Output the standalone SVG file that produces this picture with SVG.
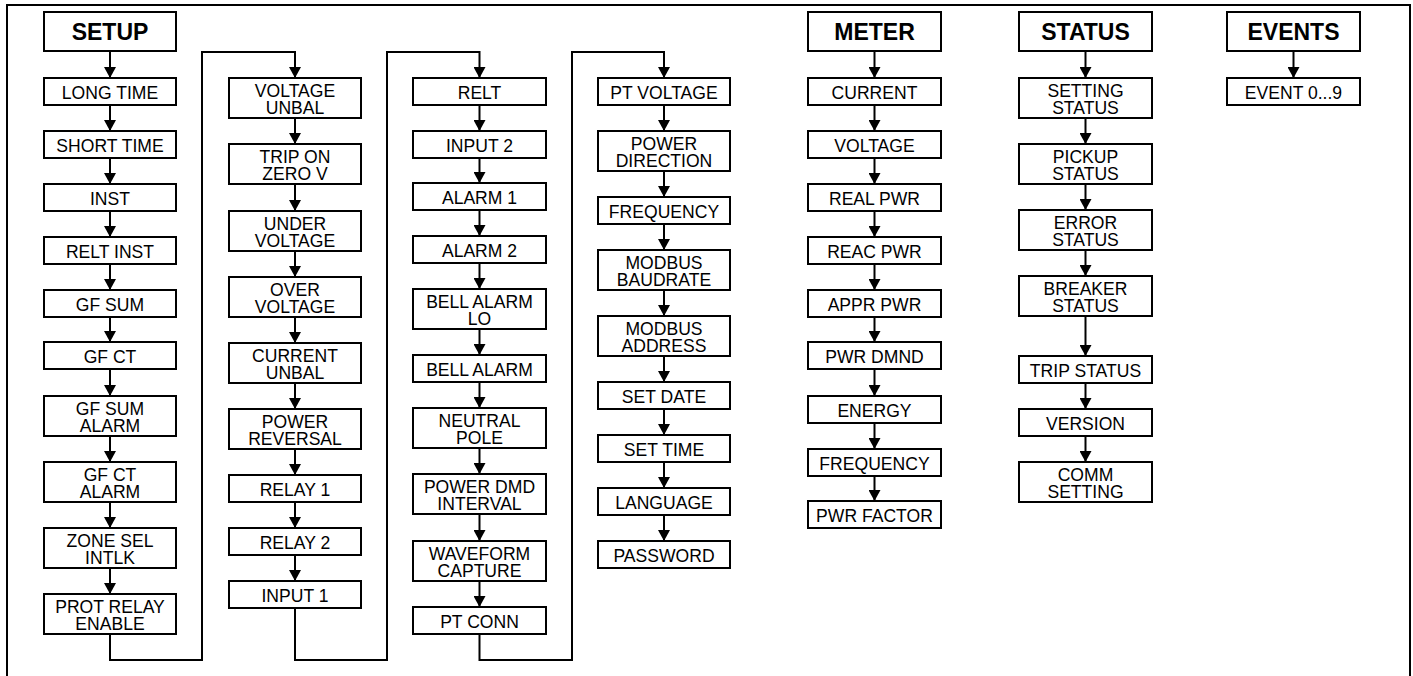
<svg xmlns="http://www.w3.org/2000/svg" width="1413" height="676" viewBox="0 0 1413 676">
<style>
.box{fill:#fff;stroke:#000;stroke-width:2}
.t{font-family:"Liberation Sans",Arial,sans-serif;font-size:18.5px;fill:#000;text-anchor:middle;transform-box:fill-box;transform-origin:center;transform:scaleX(0.95)}
.h{font-family:"Liberation Sans",Arial,sans-serif;font-size:23px;font-weight:bold;fill:#000;text-anchor:middle}
.c{fill:none;stroke:#000;stroke-width:2}
.frame{fill:none;stroke:#000;stroke-width:2}
</style>
<defs>
<marker id="ah" markerUnits="userSpaceOnUse" markerWidth="11" markerHeight="12" viewBox="0 0 11 12" refX="11" refY="6" orient="auto">
<path d="M0,0 L11,6 L0,12 z" fill="#000"/>
</marker>
</defs>
<rect class="frame" x="7" y="5" width="1403" height="680"/>

<g id="connectors">
<path class="c" marker-end="url(#ah)" d="M110,51 V78"/>
<path class="c" marker-end="url(#ah)" d="M110,105 V131"/>
<path class="c" marker-end="url(#ah)" d="M110,158 V184"/>
<path class="c" marker-end="url(#ah)" d="M110,211 V237"/>
<path class="c" marker-end="url(#ah)" d="M110,264 V290"/>
<path class="c" marker-end="url(#ah)" d="M110,317 V342"/>
<path class="c" marker-end="url(#ah)" d="M110,369 V396"/>
<path class="c" marker-end="url(#ah)" d="M110,436 V462"/>
<path class="c" marker-end="url(#ah)" d="M110,502 V528"/>
<path class="c" marker-end="url(#ah)" d="M110,568 V594"/>
<path class="c" marker-end="url(#ah)" d="M110,634 V660 H202 V52 H295 V78"/>
<path class="c" marker-end="url(#ah)" d="M295,118 V144"/>
<path class="c" marker-end="url(#ah)" d="M295,184 V211"/>
<path class="c" marker-end="url(#ah)" d="M295,251 V277"/>
<path class="c" marker-end="url(#ah)" d="M295,317 V343"/>
<path class="c" marker-end="url(#ah)" d="M295,383 V409"/>
<path class="c" marker-end="url(#ah)" d="M295,449 V475"/>
<path class="c" marker-end="url(#ah)" d="M295,502 V528"/>
<path class="c" marker-end="url(#ah)" d="M295,555 V581"/>
<path class="c" marker-end="url(#ah)" d="M295,608 V660 H387 V52 H479.5 V78"/>
<path class="c" marker-end="url(#ah)" d="M479.5,105 V131"/>
<path class="c" marker-end="url(#ah)" d="M479.5,158 V183"/>
<path class="c" marker-end="url(#ah)" d="M479.5,210 V236"/>
<path class="c" marker-end="url(#ah)" d="M479.5,263 V289"/>
<path class="c" marker-end="url(#ah)" d="M479.5,329 V355"/>
<path class="c" marker-end="url(#ah)" d="M479.5,382 V408"/>
<path class="c" marker-end="url(#ah)" d="M479.5,448 V474"/>
<path class="c" marker-end="url(#ah)" d="M479.5,514 V541"/>
<path class="c" marker-end="url(#ah)" d="M479.5,581 V607"/>
<path class="c" marker-end="url(#ah)" d="M479.5,634 V660 H572 V52 H664 V78"/>
<path class="c" marker-end="url(#ah)" d="M664,105 V131"/>
<path class="c" marker-end="url(#ah)" d="M664,171 V197"/>
<path class="c" marker-end="url(#ah)" d="M664,224 V250"/>
<path class="c" marker-end="url(#ah)" d="M664,290 V316"/>
<path class="c" marker-end="url(#ah)" d="M664,356 V382"/>
<path class="c" marker-end="url(#ah)" d="M664,409 V435"/>
<path class="c" marker-end="url(#ah)" d="M664,462 V488"/>
<path class="c" marker-end="url(#ah)" d="M664,515 V541"/>
<path class="c" marker-end="url(#ah)" d="M874.5,51 V78"/>
<path class="c" marker-end="url(#ah)" d="M874.5,105 V131"/>
<path class="c" marker-end="url(#ah)" d="M874.5,158 V184"/>
<path class="c" marker-end="url(#ah)" d="M874.5,211 V237"/>
<path class="c" marker-end="url(#ah)" d="M874.5,264 V290"/>
<path class="c" marker-end="url(#ah)" d="M874.5,317 V342"/>
<path class="c" marker-end="url(#ah)" d="M874.5,369 V396"/>
<path class="c" marker-end="url(#ah)" d="M874.5,423 V449"/>
<path class="c" marker-end="url(#ah)" d="M874.5,476 V501"/>
<path class="c" marker-end="url(#ah)" d="M1085.5,51 V78"/>
<path class="c" marker-end="url(#ah)" d="M1085.5,118 V144"/>
<path class="c" marker-end="url(#ah)" d="M1085.5,184 V210"/>
<path class="c" marker-end="url(#ah)" d="M1085.5,250 V276"/>
<path class="c" marker-end="url(#ah)" d="M1085.5,316 V356"/>
<path class="c" marker-end="url(#ah)" d="M1085.5,383 V409"/>
<path class="c" marker-end="url(#ah)" d="M1085.5,436 V462"/>
<path class="c" marker-end="url(#ah)" d="M1293.5,51 V78"/>
</g>

<g id="setup"><rect class="box" x="44" y="12" width="132" height="39"/><text class="h" x="110" y="39.5">SETUP</text></g>
<g id="long-time"><rect class="box" x="44" y="78" width="132" height="27"/><text class="t" x="110" y="99">LONG TIME</text></g>
<g id="short-time"><rect class="box" x="44" y="131" width="132" height="27"/><text class="t" x="110" y="152">SHORT TIME</text></g>
<g id="inst"><rect class="box" x="44" y="184" width="132" height="27"/><text class="t" x="110" y="205">INST</text></g>
<g id="relt-inst"><rect class="box" x="44" y="237" width="132" height="27"/><text class="t" x="110" y="258">RELT INST</text></g>
<g id="gf-sum"><rect class="box" x="44" y="290" width="132" height="27"/><text class="t" x="110" y="311">GF SUM</text></g>
<g id="gf-ct"><rect class="box" x="44" y="342" width="132" height="27"/><text class="t" x="110" y="363">GF CT</text></g>
<g id="gf-sum-alarm"><rect class="box" x="44" y="396" width="132" height="40"/><text class="t" x="110" y="414.8">GF SUM</text><text class="t" x="110" y="432.4">ALARM</text></g>
<g id="gf-ct-alarm"><rect class="box" x="44" y="462" width="132" height="40"/><text class="t" x="110" y="480.8">GF CT</text><text class="t" x="110" y="498.4">ALARM</text></g>
<g id="zone-sel"><rect class="box" x="44" y="528" width="132" height="40"/><text class="t" x="110" y="546.8">ZONE SEL</text><text class="t" x="110" y="564.4">INTLK</text></g>
<g id="prot-relay"><rect class="box" x="44" y="594" width="132" height="40"/><text class="t" x="110" y="612.8">PROT RELAY</text><text class="t" x="110" y="630.4">ENABLE</text></g>

<g id="voltage-unbal"><rect class="box" x="229" y="78" width="132" height="40"/><text class="t" x="295" y="96.8">VOLTAGE</text><text class="t" x="295" y="114.4">UNBAL</text></g>
<g id="trip-zero-v"><rect class="box" x="229" y="144" width="132" height="40"/><text class="t" x="295" y="162.8">TRIP ON</text><text class="t" x="295" y="180.4">ZERO V</text></g>
<g id="under-voltage"><rect class="box" x="229" y="211" width="132" height="40"/><text class="t" x="295" y="229.8">UNDER</text><text class="t" x="295" y="247.4">VOLTAGE</text></g>
<g id="over-voltage"><rect class="box" x="229" y="277" width="132" height="40"/><text class="t" x="295" y="295.8">OVER</text><text class="t" x="295" y="313.4">VOLTAGE</text></g>
<g id="current-unbal"><rect class="box" x="229" y="343" width="132" height="40"/><text class="t" x="295" y="361.8">CURRENT</text><text class="t" x="295" y="379.4">UNBAL</text></g>
<g id="power-reversal"><rect class="box" x="229" y="409" width="132" height="40"/><text class="t" x="295" y="427.8">POWER</text><text class="t" x="295" y="445.4">REVERSAL</text></g>
<g id="relay-1"><rect class="box" x="229" y="475" width="132" height="27"/><text class="t" x="295" y="496">RELAY 1</text></g>
<g id="relay-2"><rect class="box" x="229" y="528" width="132" height="27"/><text class="t" x="295" y="549">RELAY 2</text></g>
<g id="input-1"><rect class="box" x="229" y="581" width="132" height="27"/><text class="t" x="295" y="602">INPUT 1</text></g>

<g id="relt"><rect class="box" x="413" y="78" width="133" height="27"/><text class="t" x="479.5" y="99">RELT</text></g>
<g id="input-2"><rect class="box" x="413" y="131" width="133" height="27"/><text class="t" x="479.5" y="152">INPUT 2</text></g>
<g id="alarm-1"><rect class="box" x="413" y="183" width="133" height="27"/><text class="t" x="479.5" y="204">ALARM 1</text></g>
<g id="alarm-2"><rect class="box" x="413" y="236" width="133" height="27"/><text class="t" x="479.5" y="257">ALARM 2</text></g>
<g id="bell-alarm-lo"><rect class="box" x="413" y="289" width="133" height="40"/><text class="t" x="479.5" y="307.8">BELL ALARM</text><text class="t" x="479.5" y="325.4">LO</text></g>
<g id="bell-alarm"><rect class="box" x="413" y="355" width="133" height="27"/><text class="t" x="479.5" y="376">BELL ALARM</text></g>
<g id="neutral-pole"><rect class="box" x="413" y="408" width="133" height="40"/><text class="t" x="479.5" y="426.8">NEUTRAL</text><text class="t" x="479.5" y="444.4">POLE</text></g>
<g id="power-dmd-interval"><rect class="box" x="413" y="474" width="133" height="40"/><text class="t" x="479.5" y="492.8">POWER DMD</text><text class="t" x="479.5" y="510.4">INTERVAL</text></g>
<g id="waveform-capture"><rect class="box" x="413" y="541" width="133" height="40"/><text class="t" x="479.5" y="559.8">WAVEFORM</text><text class="t" x="479.5" y="577.4">CAPTURE</text></g>
<g id="pt-conn"><rect class="box" x="413" y="607" width="133" height="27"/><text class="t" x="479.5" y="628">PT CONN</text></g>

<g id="pt-voltage"><rect class="box" x="598" y="78" width="132" height="27"/><text class="t" x="664" y="99">PT VOLTAGE</text></g>
<g id="power-direction"><rect class="box" x="598" y="131" width="132" height="40"/><text class="t" x="664" y="149.8">POWER</text><text class="t" x="664" y="167.4">DIRECTION</text></g>
<g id="frequency-setup"><rect class="box" x="598" y="197" width="132" height="27"/><text class="t" x="664" y="218">FREQUENCY</text></g>
<g id="modbus-baudrate"><rect class="box" x="598" y="250" width="132" height="40"/><text class="t" x="664" y="268.8">MODBUS</text><text class="t" x="664" y="286.4">BAUDRATE</text></g>
<g id="modbus-address"><rect class="box" x="598" y="316" width="132" height="40"/><text class="t" x="664" y="334.8">MODBUS</text><text class="t" x="664" y="352.4">ADDRESS</text></g>
<g id="set-date"><rect class="box" x="598" y="382" width="132" height="27"/><text class="t" x="664" y="403">SET DATE</text></g>
<g id="set-time"><rect class="box" x="598" y="435" width="132" height="27"/><text class="t" x="664" y="456">SET TIME</text></g>
<g id="language"><rect class="box" x="598" y="488" width="132" height="27"/><text class="t" x="664" y="509">LANGUAGE</text></g>
<g id="password"><rect class="box" x="598" y="541" width="132" height="27"/><text class="t" x="664" y="562">PASSWORD</text></g>

<g id="meter"><rect class="box" x="808" y="12" width="133" height="39"/><text class="h" x="874.5" y="39.5">METER</text></g>
<g id="current"><rect class="box" x="808" y="78" width="133" height="27"/><text class="t" x="874.5" y="99">CURRENT</text></g>
<g id="voltage"><rect class="box" x="808" y="131" width="133" height="27"/><text class="t" x="874.5" y="152">VOLTAGE</text></g>
<g id="real-pwr"><rect class="box" x="808" y="184" width="133" height="27"/><text class="t" x="874.5" y="205">REAL PWR</text></g>
<g id="reac-pwr"><rect class="box" x="808" y="237" width="133" height="27"/><text class="t" x="874.5" y="258">REAC PWR</text></g>
<g id="appr-pwr"><rect class="box" x="808" y="290" width="133" height="27"/><text class="t" x="874.5" y="311">APPR PWR</text></g>
<g id="pwr-dmnd"><rect class="box" x="808" y="342" width="133" height="27"/><text class="t" x="874.5" y="363">PWR DMND</text></g>
<g id="energy"><rect class="box" x="808" y="396" width="133" height="27"/><text class="t" x="874.5" y="417">ENERGY</text></g>
<g id="frequency-meter"><rect class="box" x="808" y="449" width="133" height="27"/><text class="t" x="874.5" y="470">FREQUENCY</text></g>
<g id="pwr-factor"><rect class="box" x="808" y="501" width="133" height="27"/><text class="t" x="874.5" y="522">PWR FACTOR</text></g>

<g id="status"><rect class="box" x="1019" y="12" width="133" height="39"/><text class="h" x="1085.5" y="39.5">STATUS</text></g>
<g id="setting-status"><rect class="box" x="1019" y="78" width="133" height="40"/><text class="t" x="1085.5" y="96.8">SETTING</text><text class="t" x="1085.5" y="114.4">STATUS</text></g>
<g id="pickup-status"><rect class="box" x="1019" y="144" width="133" height="40"/><text class="t" x="1085.5" y="162.8">PICKUP</text><text class="t" x="1085.5" y="180.4">STATUS</text></g>
<g id="error-status"><rect class="box" x="1019" y="210" width="133" height="40"/><text class="t" x="1085.5" y="228.8">ERROR</text><text class="t" x="1085.5" y="246.4">STATUS</text></g>
<g id="breaker-status"><rect class="box" x="1019" y="276" width="133" height="40"/><text class="t" x="1085.5" y="294.8">BREAKER</text><text class="t" x="1085.5" y="312.4">STATUS</text></g>
<g id="trip-status"><rect class="box" x="1019" y="356" width="133" height="27"/><text class="t" x="1085.5" y="377">TRIP STATUS</text></g>
<g id="version"><rect class="box" x="1019" y="409" width="133" height="27"/><text class="t" x="1085.5" y="430">VERSION</text></g>
<g id="comm-setting"><rect class="box" x="1019" y="462" width="133" height="40"/><text class="t" x="1085.5" y="480.8">COMM</text><text class="t" x="1085.5" y="498.4">SETTING</text></g>

<g id="events"><rect class="box" x="1227" y="12" width="133" height="39"/><text class="h" x="1293.5" y="39.5">EVENTS</text></g>
<g id="event-0-9"><rect class="box" x="1227" y="78" width="133" height="27"/><text class="t" x="1293.5" y="99">EVENT 0...9</text></g>
</svg>
